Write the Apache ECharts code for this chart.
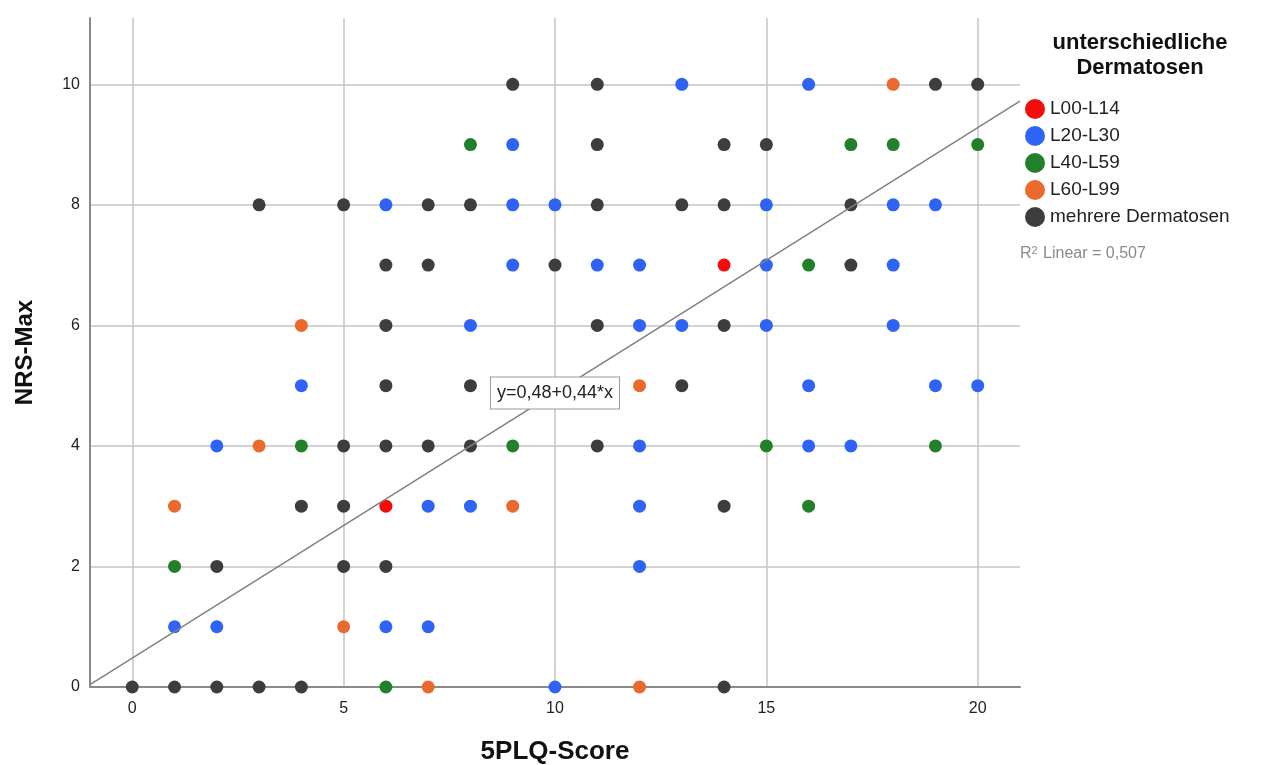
<!DOCTYPE html>
<html>
<head>
<meta charset="utf-8">
<script src="https://cdn.jsdelivr.net/npm/echarts@6/dist/echarts.min.js"></script>
<style>
  html, body { margin: 0; padding: 0; background: #fff; }
  #chart { width: 1262px; height: 765px; }
</style>
</head>
<body>
<div id="chart"></div>
<script>
// points per group, [5PLQ-Score, NRS-Max]
const grpL00 = [[14, 7], [6, 3]];
const grpL20 = [
    [13, 10], [16, 10], [9, 9],
    [6, 8], [9, 8], [10, 8], [15, 8], [18, 8], [19, 8],
    [9, 7], [11, 7], [12, 7], [15, 7], [18, 7],
    [8, 6], [12, 6], [13, 6], [15, 6], [18, 6],
    [4, 5], [16, 5], [19, 5], [20, 5],
    [2, 4], [12, 4], [16, 4], [17, 4],
    [7, 3], [8, 3], [12, 3], [12, 2],
    [1, 1], [2, 1], [6, 1], [7, 1], [10, 0]
];
const grpL40 = [
    [8, 9], [17, 9], [18, 9], [20, 9], [16, 7],
    [4, 4], [9, 4], [15, 4], [19, 4], [16, 3], [1, 2], [6, 0]
];
const grpL60 = [[18, 10], [4, 6], [12, 5], [3, 4], [1, 3], [9, 3], [5, 1], [7, 0], [12, 0]];
const grpMulti = [
    [9, 10], [11, 10], [19, 10], [20, 10],
    [11, 9], [14, 9], [15, 9],
    [3, 8], [5, 8], [7, 8], [8, 8], [11, 8], [13, 8], [14, 8], [17, 8],
    [6, 7], [7, 7], [10, 7], [17, 7],
    [6, 6], [11, 6], [14, 6],
    [6, 5], [8, 5], [13, 5],
    [5, 4], [6, 4], [7, 4], [8, 4], [11, 4],
    [4, 3], [5, 3], [14, 3],
    [2, 2], [5, 2], [6, 2],
    [0, 0], [1, 0], [2, 0], [3, 0], [4, 0], [14, 0]
];

const groupNames = ['L00-L14', 'L20-L30', 'L40-L59', 'L60-L99', 'mehrere Dermatosen'];
const groupColors = ['#f20c0c', '#2f63f5', '#23802a', '#e96a2c', '#3d3d3d'];
const groupData = [grpL00, grpL20, grpL40, grpL60, grpMulti];

const xTicks = [0, 5, 10, 15, 20];
const yTicks = [0, 2, 4, 6, 8, 10];

// linear fit (y=0,48+0,44*x), R2 = 0,507
const fitIntercept = 0.48;
const fitSlope = 0.44;
const xMin = -1, xMax = 21;

const font = '"Liberation Sans", Arial, sans-serif';

const chart = echarts.init(document.getElementById('chart'));

const series = groupData.map((d, i) => ({
    name: groupNames[i],
    type: 'scatter',
    data: d,
    symbolSize: 13,
    itemStyle: { color: groupColors[i], opacity: 1 },
    z: 3
}));

series.push({
    name: 'fit',
    type: 'line',
    data: [[xMin, fitIntercept + fitSlope * xMin], [xMax, fitIntercept + fitSlope * xMax]],
    symbol: 'none',
    lineStyle: { color: '#808080', width: 1.5 },
    z: 4,
    markPoint: {
        symbol: 'rect',
        symbolSize: 0,
        data: [{ coord: [10, fitIntercept + fitSlope * 10] }],
        label: {
            show: true,
            position: 'inside',
            formatter: 'y=0,48+0,44*x',
            fontFamily: font,
            fontSize: 18,
            color: '#222',
            backgroundColor: '#fff',
            borderColor: '#999',
            borderWidth: 1,
            padding: [7, 6, 6, 6]
        },
        z: 10
    }
});

chart.setOption({
    animation: false,
    backgroundColor: '#fff',
    grid: { left: 90, right: 242, top: 18, bottom: 78, outerBoundsMode: 'none', containLabel: false },
    xAxis: {
        type: 'value',
        min: xMin,
        max: xMax,
        name: '5PLQ-Score',
        nameLocation: 'middle',
        nameGap: 52,
        nameTextStyle: { fontFamily: font, fontSize: 26, fontWeight: 'bold', color: '#111' },
        axisLine: { onZero: false, lineStyle: { color: '#8a8a8a', width: 2 } },
        axisTick: { show: false, customValues: xTicks },
        axisLabel: { customValues: xTicks, margin: 14, fontFamily: font, fontSize: 16, color: '#222' },
        splitLine: { show: true, lineStyle: { color: '#c4c4c4', width: 1.5 } }
    },
    yAxis: {
        type: 'value',
        min: 0,
        max: 11.1,
        name: 'NRS-Max',
        nameLocation: 'middle',
        nameGap: 53,
        nameRotate: 90,
        nameTextStyle: { fontFamily: font, fontSize: 24, fontWeight: 'bold', color: '#111' },
        axisLine: { show: true, onZero: false, lineStyle: { color: '#8a8a8a', width: 2 } },
        axisTick: { show: false, customValues: yTicks },
        axisLabel: { customValues: yTicks, margin: 10, fontFamily: font, fontSize: 16, color: '#222' },
        splitLine: { show: true, lineStyle: { color: '#c4c4c4', width: 1.5 } }
    },
    legend: {
        data: groupNames,
        orient: 'vertical',
        left: 1020,
        top: 94,
        icon: 'circle',
        itemWidth: 20,
        itemHeight: 20,
        itemGap: 7,
        textStyle: { fontFamily: font, fontSize: 19, color: '#222' }
    },
    graphic: [
        {
            type: 'text',
            x: 1140,
            y: 30,
            style: {
                text: 'unterschiedliche\nDermatosen',
                align: 'center',
                font: 'bold 22px "Liberation Sans", Arial, sans-serif',
                lineHeight: 25,
                fill: '#111'
            }
        },
        {
            type: 'text',
            left: 1020,
            top: 245,
            style: {
                text: 'R{sup|2} Linear = 0,507',
                font: '16px "Liberation Sans", Arial, sans-serif',
                fill: '#8a8a8a',
                rich: {
                    sup: { fontSize: 11, fill: '#8a8a8a', verticalAlign: 'top', padding: [0, 1, 6, 0] }
                }
            }
        }
    ],
    series: series
});
</script>
</body>
</html>
